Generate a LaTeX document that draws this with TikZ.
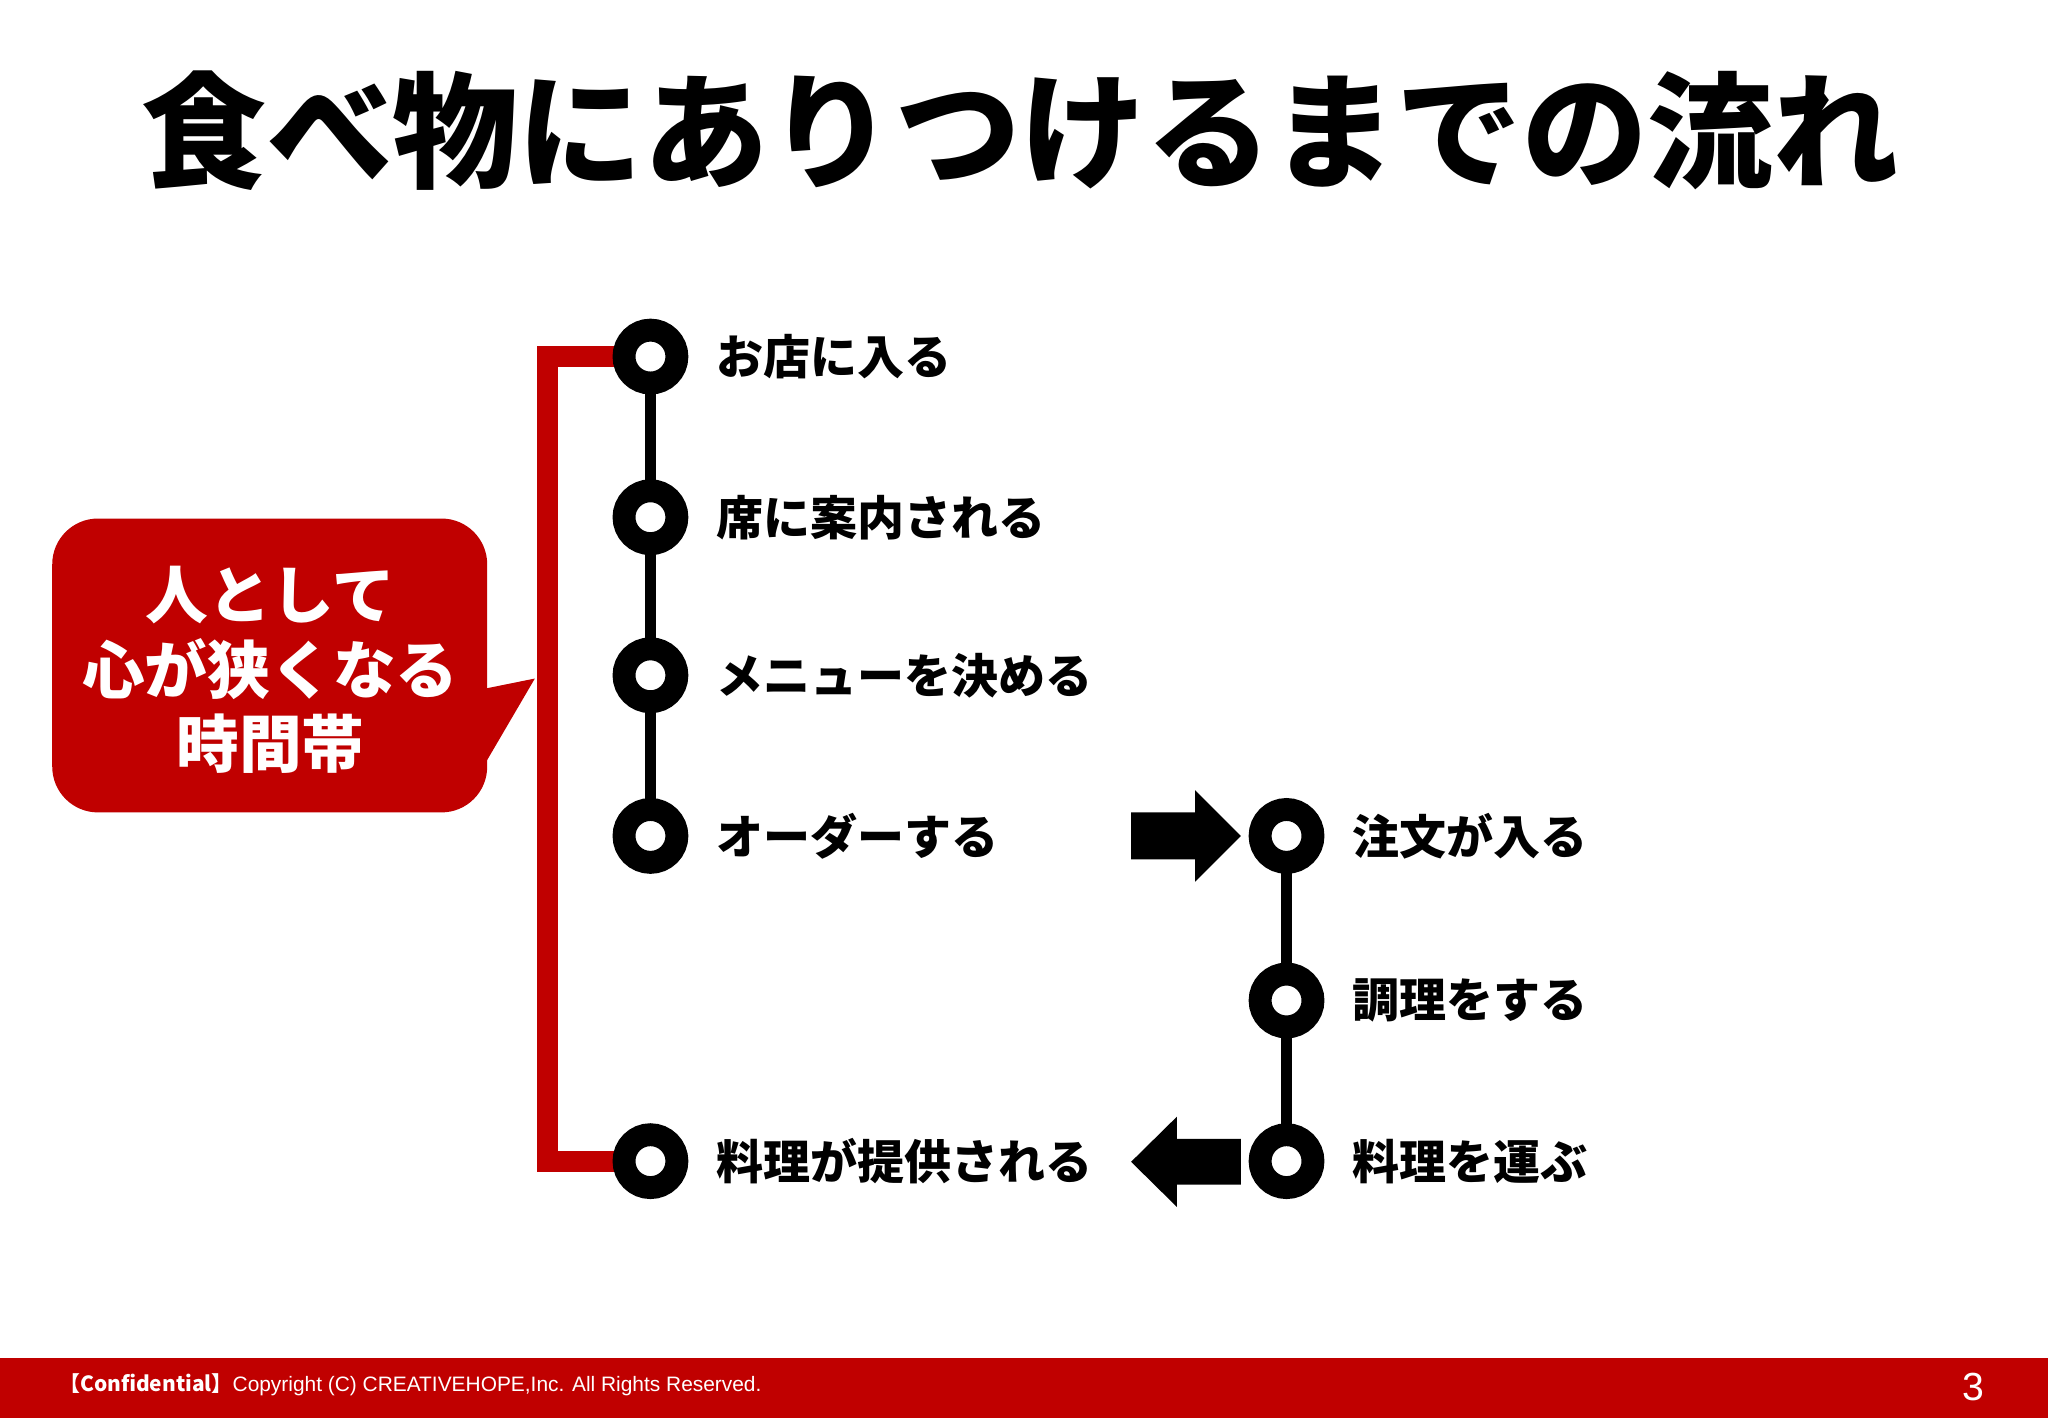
\documentclass[tikz,border=0pt]{standalone}
\usepackage{fontspec}
\setmainfont{Liberation Sans}
\newfontfamily\cjk{Noto Sans CJK JP}
\definecolor{cred}{HTML}{C00000}
\tikzset{
  stop/.style={circle, draw=black, fill=white, line width=8.75pt, inner sep=0pt, minimum size=20.25pt},
  stoplabel/.style={anchor=west, inner sep=0pt, font=\cjk\bfseries\fontsize{18}{20}\selectfont},
  blackline/.style={draw=black, line width=4.3pt},
  redline/.style={draw=cred, line width=8pt, line join=miter},
  blockarrow/.style={fill=black},
}
\begin{document}
\begin{tikzpicture}[x=0.5pt,y=-0.5pt]
\useasboundingbox (0,0) rectangle (1568,1086);
\fill[white] (0,0) rectangle (1568,1086);
% footer
\fill[cred] (0,1040) rectangle (1568,1086);
\node[anchor=west, inner sep=0pt, text=white, font=\fontsize{8}{10}\selectfont] (foot) at (45,1060)
  {{\cjk\bfseries 【Confidential】}Copyright (C) CREATIVEHOPE,Inc. All Rights Reserved.};
\node[text=white, inner sep=0pt, font=\fontsize{15}{18}\selectfont] (pg) at (1511,1062) {3};
% title
\node[inner sep=0pt, font=\cjk\bfseries\fontsize{48}{52}\selectfont] (title) at (781,100) {食べ物にありつけるまでの流れ};
% coordinates of stops
\coordinate (pa) at (498,273);
\coordinate (pb) at (498,396);
\coordinate (pc) at (498,517);
\coordinate (pd) at (498,640);
\coordinate (pe) at (498,889);
\coordinate (pf) at (985,640);
\coordinate (pg2) at (985,766);
\coordinate (ph) at (985,889);
% connectors under circles
\draw[blackline] (pa) -- (pb) -- (pc) -- (pd);
\draw[blackline] (pf) -- (pg2) -- (ph);
\coordinate (ct) at (419,273);
\coordinate (cb) at (419,889);
\draw[redline] (pa) -- (ct) -- (cb) -- (pe);
% stops
\node[stop] (a) at (pa) {};
\node[stop] (b) at (pb) {};
\node[stop] (c) at (pc) {};
\node[stop] (d) at (pd) {};
\node[stop] (e) at (pe) {};
\node[stop] (f) at (pf) {};
\node[stop] (g) at (pg2) {};
\node[stop] (h) at (ph) {};
% labels
\node[stoplabel] (la) at (548,273) {お店に入る};
\node[stoplabel] (lb) at (548,396) {席に案内される};
\node[stoplabel] (lc) at (548,517) {メニューを決める};
\node[stoplabel] (ld) at (548,640) {オーダーする};
\node[stoplabel] (le) at (548,889) {料理が提供される};
\node[stoplabel] (lf) at (1035,640) {注文が入る};
\node[stoplabel] (lg) at (1035,766) {調理をする};
\node[stoplabel] (lh) at (1035,889) {料理を運ぶ};
% block arrows
\fill[blockarrow] (866,622) -- (915,622) -- (915,605) -- (950,640) -- (915,675) -- (915,658) -- (866,658) -- cycle;
\fill[blockarrow] (950,872) -- (901,872) -- (901,855) -- (866,889.5) -- (901,924) -- (901,907) -- (950,907) -- cycle;
% callout
\fill[cred, rounded corners=17.5pt] (40,397) rectangle (373,622);
\fill[cred] (370,527.5) -- (409.5,519.5) -- (370,587) -- cycle;
\node[align=center, text=white, inner sep=0pt, font=\cjk\bfseries\fontsize{24}{28.5}\selectfont] (call) at (207,513)
  {人として\\心が狭くなる\\時間帯};
\end{tikzpicture}
\end{document}
